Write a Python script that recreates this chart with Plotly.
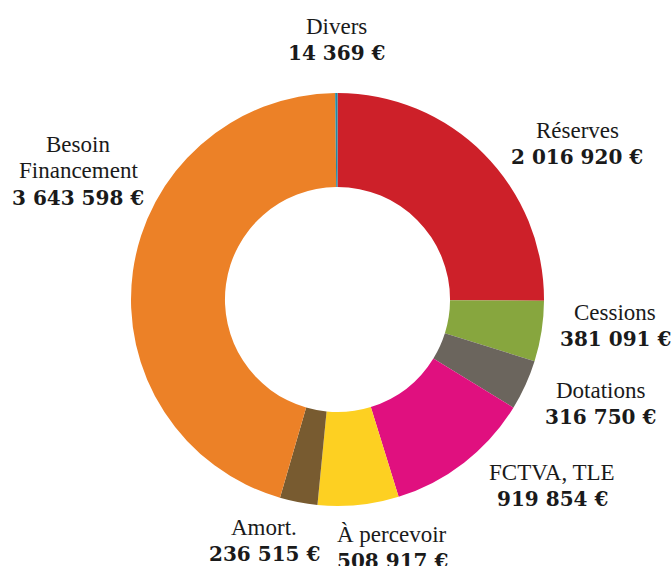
import plotly.graph_objects as go

# ---- data ----
categories = ["Réserves", "Cessions", "Dotations", "FCTVA, TLE", "À percevoir",
              "Amort.", "Besoin<br>Financement", "Divers"]
values = [2016920, 381091, 316750, 919854, 508917, 236515, 3643598, 14369]
colors = ["#CD2029", "#87A63E", "#6B655D", "#E0107F", "#FDD022",
          "#785B30", "#EC8127", "#1E8AA8"]

W, H = 672, 566
# label centres in pixels (layout, not data)
label_px = [(577, 143.5), (615, 326), (600, 404), (552, 486), (392, 548),
            (264, 541), (78, 171), (336, 40)]
LINE = 26.5

def fmt(v):
    return f"{v:,}".replace(",", " ") + " €"

fig = go.Figure(go.Pie(
    labels=categories,
    values=values,
    marker=dict(colors=colors, line=dict(color="white", width=0)),
    hole=0.545,
    sort=False,
    direction="clockwise",
    rotation=0,
    textinfo="none",
    hoverinfo="label+value",
    showlegend=False,
    domain=dict(x=[131 / W, 544 / W], y=[1 - 506 / H, 1 - 93 / H]),
))

name_font = dict(family="Liberation Serif, Times New Roman, DejaVu Serif, serif",
                 size=23, color="#1a1a1a")
num_font = dict(family="DejaVu Serif, serif", size=20, color="#1a1a1a")

annotations = []
for cat, val, (px, py) in zip(categories, values, label_px):
    lines = [(t, name_font) for t in cat.split("<br>")] + [(f"<b>{fmt(val)}</b>", num_font)]
    n = len(lines)
    for i, (t, f) in enumerate(lines):
        y = py + (i - (n - 1) / 2) * LINE
        annotations.append(dict(
            x=px / W, y=1 - y / H, xref="paper", yref="paper",
            text=t, showarrow=False, xanchor="center", yanchor="middle",
            font=f,
        ))

fig.update_layout(
    width=W, height=H,
    margin=dict(l=0, r=0, t=0, b=0),
    paper_bgcolor="white",
    plot_bgcolor="white",
    annotations=annotations,
)

fig.write_html("out.html", config={"displayModeBar": False},
               post_script="document.body.style.margin='0';document.body.style.overflow='hidden';")
